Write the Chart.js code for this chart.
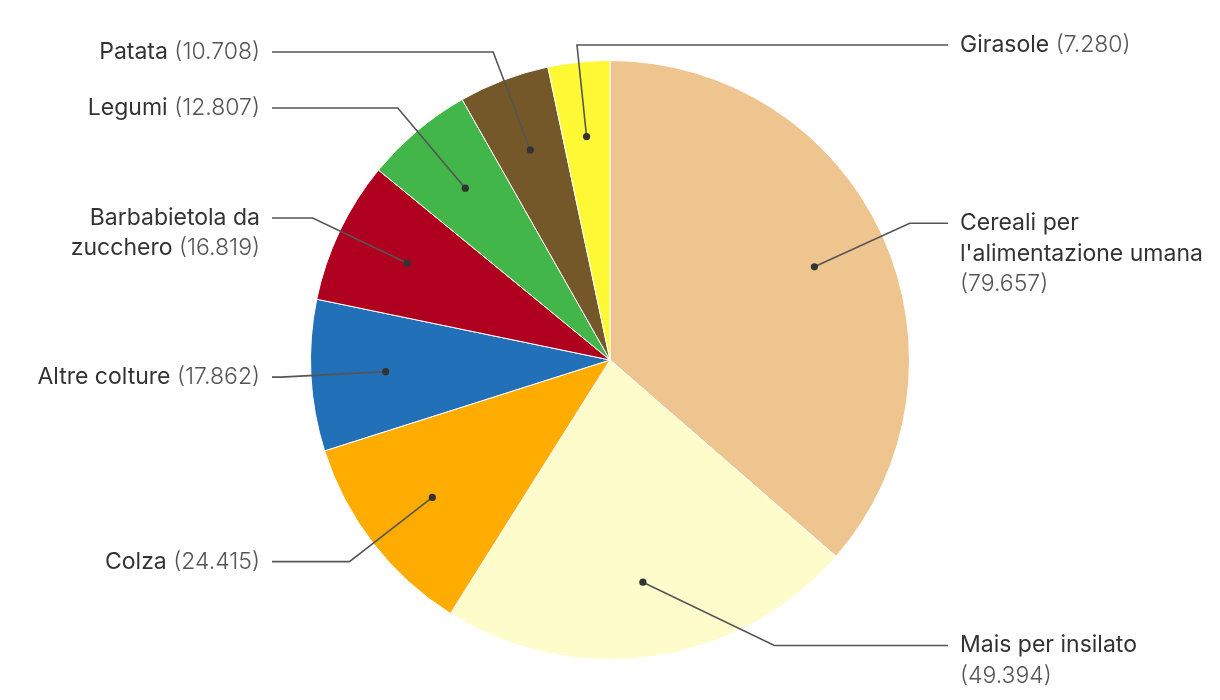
<!DOCTYPE html>
<html lang="it">
<head>
<meta charset="utf-8">
<title>Colture</title>
<script src="https://cdn.jsdelivr.net/npm/chart.js@4.4.1/dist/chart.umd.min.js"></script>
<style>
  html, body { margin: 0; padding: 0; background: #ffffff; }
  #wrap { width: 1220px; height: 700px; }
  canvas { display: block; }
</style>
</head>
<body>
<div id="wrap"><canvas id="chart" width="1220" height="700"></canvas></div>
<script>
// Superfici per coltura
const categories = [
  "Cereali per l'alimentazione umana",
  "Mais per insilato",
  "Colza",
  "Altre colture",
  "Barbabietola da zucchero",
  "Legumi",
  "Patata",
  "Girasole"
];
const values = [79657, 49394, 24415, 17862, 16819, 12807, 10708, 7280];
const colors = ["#EEC48F", "#FEFCCB", "#FFAC00", "#2270B8", "#B0001F", "#43B649", "#745829", "#FFF835"];

const FONT = "Inter, 'Noto Sans', sans-serif";
const NAME_FONT = "400 23px " + FONT;
const VALUE_FONT = "300 23px " + FONT;

// "79.657" style thousands separator
function fmt(v) {
  return String(Math.round(v)).replace(/\B(?=(\d{3})+(?!\d))/g, ".");
}

// Break a label into lines of styled words
function wrapLabel(ctx, name, value, maxWidth) {
  const tokens = name.split(" ").map(w => ({ text: w, value: false }));
  tokens.push({ text: "(" + fmt(value) + ")", value: true });
  const lines = [];
  let cur = [], curW = 0;
  ctx.font = NAME_FONT;
  const spaceW = ctx.measureText(" ").width;
  tokens.forEach(t => {
    ctx.font = t.value ? VALUE_FONT : NAME_FONT;
    const w = ctx.measureText(t.text).width;
    const add = cur.length ? spaceW + w : w;
    if (cur.length && curW + add > maxWidth) {
      lines.push({ parts: cur, width: curW });
      cur = [t]; curW = w;
    } else {
      cur.push(t); curW += add;
    }
    t.w = w;
  });
  if (cur.length) lines.push({ parts: cur, width: curW });
  return { lines, spaceW };
}

const leaderLabels = {
  id: "leaderLabels",
  afterDatasetsDraw(chart, args, opts) {
    const ctx = chart.ctx;
    const meta = chart.getDatasetMeta(0);
    const H = chart.height;
    const lh = opts.lineHeight;
    const placed = { left: [], right: [] };
    ctx.save();
    meta.data.forEach((arc, i) => {
      const { x: cx, y: cy, startAngle, endAngle, outerRadius: R } = arc.getProps(["x", "y", "startAngle", "endAngle", "outerRadius"], true);
      const mid = (startAngle + endAngle) / 2;
      const dotR = R * opts.dotRatio;
      const dx = cx + Math.cos(mid) * dotR;
      const dy = cy + Math.sin(mid) * dotR;
      const elbowR = R * opts.elbowRatio;
      const naturalSide = Math.cos(mid) < 0 ? "left" : "right";
      const wrapped = wrapLabel(ctx, categories[i], values[i], opts.maxWidth);
      const n = wrapped.lines.length;
      let ly = cy + Math.sin(mid) * elbowR;
      ly = Math.max(opts.minY, Math.min(ly, H - opts.bottomGap - (n - 1) * lh));
      // move to the other side when it would collide with a label already placed
      let side = naturalSide;
      const top = ly - lh / 2, bottom = ly + (n - 0.5) * lh;
      const hits = placed[side].some(p => top < p.bottom && bottom > p.top);
      if (hits) side = side === "left" ? "right" : "left";
      placed[side].push({ top, bottom });

      let ex;
      if (side === naturalSide) {
        const d = ly - cy;
        const off = Math.sqrt(Math.max(elbowR * elbowR - d * d, 0));
        ex = cx + (side === "left" ? -off : off);
      } else {
        // follow the slice's radial direction up to the label row
        ex = dx + (ly - dy) * Math.cos(mid) / Math.sin(mid);
      }
      const sgn = side === "left" ? -1 : 1;
      const lineEnd = cx + sgn * opts.lineReach;
      const textX = cx + sgn * opts.textReach;

      ctx.strokeStyle = opts.lineColor;
      ctx.lineWidth = 1.6;
      ctx.beginPath();
      ctx.moveTo(dx, dy);
      ctx.lineTo(ex, ly);
      ctx.lineTo(lineEnd, ly);
      ctx.stroke();

      ctx.fillStyle = opts.dotColor;
      ctx.beginPath();
      ctx.arc(dx, dy, 3.6, 0, Math.PI * 2);
      ctx.fill();

      ctx.textBaseline = "middle";
      ctx.textAlign = "left";
      wrapped.lines.forEach((line, li) => {
        let x = side === "left" ? textX - line.width : textX;
        const y = ly + li * lh;
        line.parts.forEach((p, pi) => {
          if (pi > 0) x += wrapped.spaceW;
          ctx.font = p.value ? VALUE_FONT : NAME_FONT;
          ctx.fillStyle = p.value ? opts.valueColor : opts.nameColor;
          ctx.fillText(p.text, x, y);
          x += p.w;
        });
      });
    });
    ctx.restore();
  }
};

function draw() {
  new Chart(document.getElementById("chart"), {
    type: "pie",
    data: {
      labels: categories,
      datasets: [{
        data: values,
        backgroundColor: colors,
        borderColor: "#ffffff",
        borderWidth: 1
      }]
    },
    options: {
      responsive: false,
      animation: false,
      layout: { padding: { top: 60, bottom: 40, left: 310, right: 310 } },
      plugins: {
        legend: { display: false },
        tooltip: { enabled: false },
        leaderLabels: {
          dotRatio: 0.75,
          elbowRatio: 1.1,
          lineReach: 338,
          textReach: 350,
          maxWidth: 245,
          lineHeight: 30.5,
          minY: 45,
          bottomGap: 24,
          lineColor: "#555555",
          dotColor: "#333333",
          nameColor: "#333333",
          valueColor: "#555555"
        }
      }
    },
    plugins: [leaderLabels]
  });
}

if (document.fonts && document.fonts.load) {
  Promise.all([document.fonts.load(NAME_FONT), document.fonts.load(VALUE_FONT)]).then(draw, draw);
} else {
  draw();
}
</script>
</body>
</html>
